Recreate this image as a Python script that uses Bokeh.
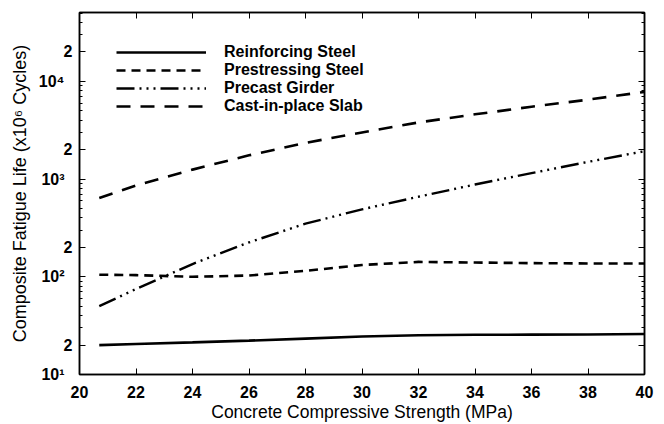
from bokeh.plotting import figure
from bokeh.models import (LogAxis, LinearAxis, FixedTicker, Legend, LegendItem, Range1d)
from bokeh.embed import file_html
from bokeh.resources import INLINE

# ---- data ----
strength = [20.7, 22, 24, 26, 28, 30, 32, 34, 36, 38, 40]
reinforcing_steel = [20.0, 20.5, 21.3, 22.2, 23.3, 24.5, 25.2, 25.5, 25.6, 25.7, 26.0]
prestressing_steel = [105, 104, 100, 103, 115, 132, 142, 140, 138, 137, 137]
precast_girder = [50, 75, 135, 225, 350, 490, 660, 880, 1150, 1500, 1930]
cast_in_place_slab = [640, 860, 1250, 1750, 2350, 3000, 3800, 4600, 5500, 6500, 7800]

series_names = ["Reinforcing Steel", "Prestressing Steel", "Precast Girder", "Cast-in-place Slab"]

x_ticks = [20, 22, 24, 26, 28, 30, 32, 34, 36, 38, 40]
y_major_ticks = [10, 20, 100, 200, 1000, 2000, 10000, 20000]
y_minor_ticks = [30, 40, 50, 60, 70, 80, 90, 300, 400, 500, 600, 700, 800, 900,
                 3000, 4000, 5000, 6000, 7000, 8000, 9000, 30000, 40000, 50000]
y_tick_labels = {10: "10\u00b9\u2002", 20: "2", 100: "10\u00b2\u2002", 200: "2",
                 1000: "10\u00b3\u2002", 2000: "2", 10000: "10\u2074\u2002", 20000: "2"}

FONT = "Liberation Sans"

p = figure(width=664, height=424, output_backend="svg", toolbar_location=None,
           y_axis_type="log", x_range=Range1d(20, 40), y_range=Range1d(10, 50700),
           min_border_left=79, min_border_right=20, min_border_top=12, min_border_bottom=50)
p.background_fill_color = "white"
p.border_fill_color = "white"
p.outline_line_color = "black"
p.outline_line_width = 1.5
p.xgrid.visible = False
p.ygrid.visible = False

styles = [
    dict(line_dash="solid", line_width=2.6),
    dict(line_dash="9 6", line_width=2.6),
    dict(line_dash="18 5 2 5 2 5 2 5", line_width=2.4),
    dict(line_dash="14 10", line_width=2.6),
]
data = [reinforcing_steel, prestressing_steel, precast_girder, cast_in_place_slab]
renderers = []
for vals, st in zip(data, styles):
    r = p.line(strength, vals, line_color="black", **st)
    renderers.append(r)

# bottom axis
xa = p.xaxis[0]
xa.ticker = FixedTicker(ticks=x_ticks)
xa.axis_label = "Concrete Compressive Strength (MPa)"
# left axis
ya = p.yaxis[0]
ya.ticker = FixedTicker(ticks=y_major_ticks, minor_ticks=y_minor_ticks)
ya.major_label_overrides = y_tick_labels
ya.axis_label = "Composite Fatigue Life (x10\u2076 Cycles)"

for ax in (xa, ya):
    ax.major_tick_in = 6
    ax.major_tick_out = 0
    ax.minor_tick_in = 3
    ax.minor_tick_out = 0
    ax.axis_line_width = 1.5
    ax.major_label_text_font = FONT
    ax.major_label_text_font_size = "16px"
    ax.major_label_text_font_style = "bold"
    ax.major_label_text_color = "black"
    ax.axis_label_text_font = FONT
    ax.axis_label_text_font_style = "normal"
    ax.axis_label_text_color = "black"
xa.axis_label_text_font_size = "17.5px"
ya.axis_label_text_font_size = "18px"
xa.major_label_standoff = 11
xa.axis_label_standoff = 1
ya.major_label_standoff = 7
ya.axis_label_standoff = 6

# mirrored axes (ticks only, labels blank)
ra = LogAxis(ticker=FixedTicker(ticks=y_major_ticks, minor_ticks=y_minor_ticks))
ra.major_label_overrides = {t: "" for t in y_major_ticks}
ta = LinearAxis(ticker=FixedTicker(ticks=x_ticks))
ta.major_label_overrides = {t: "" for t in x_ticks}
for ax in (ra, ta):
    ax.major_tick_in = 6
    ax.major_tick_out = 0
    ax.minor_tick_in = 3
    ax.minor_tick_out = 0
    ax.major_label_standoff = 0
    ax.axis_line_width = 1.5
p.add_layout(ra, "right")
p.add_layout(ta, "above")

legend = Legend(items=[LegendItem(label=n, renderers=[r]) for n, r in zip(series_names, renderers)],
                location=(37, 259), orientation="vertical")
legend.border_line_color = None
legend.background_fill_alpha = 0
legend.glyph_width = 90
legend.glyph_height = 18
legend.label_height = 18
legend.spacing = 0
legend.padding = 2
legend.label_standoff = 18
legend.label_text_font = FONT
legend.label_text_font_size = "16px"
legend.label_text_font_style = "bold"
legend.label_text_color = "black"
p.add_layout(legend, "center")

open("out.html", "w").write(file_html(p, INLINE))
